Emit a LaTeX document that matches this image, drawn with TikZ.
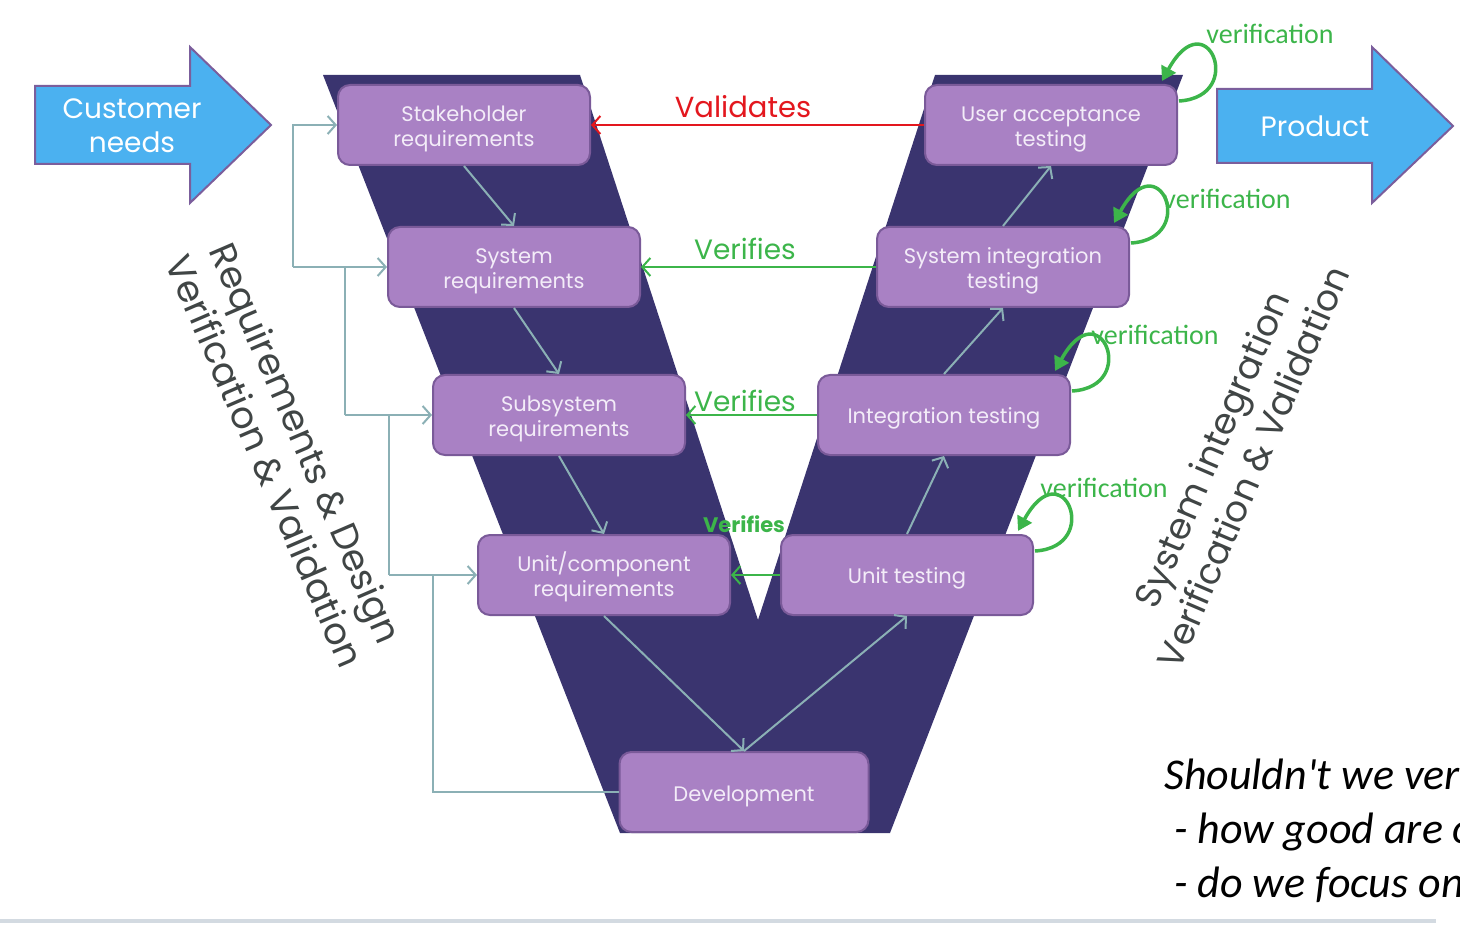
\documentclass[tikz,border=0pt]{standalone}
\usepackage{fontspec}
\setmainfont{Poppins}
\newfontfamily\calfont{Carlito}
\usetikzlibrary{arrows.meta,calc}
\definecolor{vnavy}{HTML}{3A346F}
\definecolor{boxfill}{HTML}{A981C4}
\definecolor{boxline}{HTML}{7A5A99}
\definecolor{boxtext}{HTML}{F3ECF8}
\definecolor{flowc}{HTML}{8BB0B5}
\definecolor{vgreen}{HTML}{3CB54A}
\definecolor{vred}{HTML}{E3171E}
\definecolor{arrblue}{HTML}{4BB1F0}
\definecolor{arrline}{HTML}{7B5E9C}
\definecolor{sidegrey}{HTML}{404545}
\definecolor{basegrey}{HTML}{D3DAE1}
\tikzset{
  box/.style={draw=boxline, line width=2pt, fill=boxfill, rounded corners=12pt,
    minimum width=252pt, minimum height=80pt, text=boxtext, align=center, inner sep=0pt,
    font=\fontsize{21}{25}\selectfont, execute at begin node={\rule{0pt}{23.5pt}}},
  boxtwo/.style={box, execute at begin node={\rule{0pt}{48.5pt}}},
  flow/.style={draw=flowc, line width=2pt, -{Straight Barb[length=8pt,width=18pt,line width=2pt]}},
  verarrow/.style={draw=vgreen, line width=2pt, -{Straight Barb[length=8pt,width=18pt,line width=2pt]}},
  valarrow/.style={draw=vred, line width=2pt, -{Straight Barb[length=8pt,width=18pt,line width=2pt]}},
  fb/.style={draw=flowc, line width=2pt},
  fbarrow/.style={fb, -{Straight Barb[length=8pt,width=18pt,line width=2pt]}},
  selfloop/.style={draw=vgreen, line width=3.5pt, -{Triangle[length=14pt,width=16pt]}},
  looplab/.style={text=vgreen, font=\calfont\fontsize{28}{30}\selectfont, inner sep=0pt},
  verlab/.style={text=vgreen, font=\fontsize{28}{30}\selectfont, inner sep=0pt},
  bigarrow/.style={fill=arrblue, draw=arrline, line width=2pt},
  arrtext/.style={text=white, align=center, font=\fontsize{28}{34}\selectfont},
  sidetext/.style={text=sidegrey, align=center, font=\fontsize{37}{45}\selectfont},
}
\newcommand\vloop[1]{\draw[selfloop] ($(#1.north east)+(1,17)$) .. controls +(68,-4) and +(45,-82) .. ($(#1.north east)+(-16,-3)$);}
\begin{document}
\begin{tikzpicture}[x=1pt,y=-1pt]
\useasboundingbox (0,0) rectangle (1460,925);
% V shape
\fill[vnavy] (323,75) -- (580,75) -- (758,620) -- (935,75) -- (1183,75) -- (890,833) -- (620,833) -- cycle;
% big arrows
\draw[bigarrow] (35,86) -- (190,86) -- (190,47) -- (271,125) -- (190,203) -- (190,164) -- (35,164) -- cycle;
\node[arrtext] (cust) at (132,126) {Customer\\needs};
\draw[bigarrow] (1217,89) -- (1372,89) -- (1372,47) -- (1453,126) -- (1372,203) -- (1372,163) -- (1217,163) -- cycle;
\node[arrtext] (prod) at (1315,126) {Product};
% boxes
\node[boxtwo] (stk) at (464,125) {Stakeholder\\requirements};
\node[boxtwo] (sys) at (514,267) {System\\requirements};
\node[boxtwo] (sub) at (559,415) {Subsystem\\requirements};
\node[boxtwo] (uc)  at (604,575) {Unit/component\\requirements};
\node[box, minimum width=249pt] (dev) at (744,792) {Development};
\node[box] (ut)  at (907,575) {Unit testing};
\node[box] (it)  at (944,415) {Integration testing};
\node[boxtwo] (sit) at (1003,267) {System integration\\testing};
\node[boxtwo] (uat) at (1051,125) {User acceptance\\testing};
% flow arrows
\draw[flow] (stk.south) -- (sys.north);
\draw[flow] (sys.south) -- (sub.north);
\draw[flow] (sub.south) -- (uc.north);
\draw[flow] (uc.south) -- (dev.north);
\draw[flow] (dev.north) -- (ut.south);
\draw[flow] (ut.north) -- (it.south);
\draw[flow] (it.north) -- (sit.south);
\draw[flow] (sit.north) -- (uat.south);
% feedback lines
\coordinate (j1) at (433,575);
\coordinate (j2) at (389,575);
\coordinate (j3) at (345,415);
\coordinate (j4) at (293,267);
\draw[fbarrow] (dev.west) -| (j1) -- (uc.west);
\draw[fb] (j1) -- (j2);
\draw[fbarrow] (j2) |- (sub.west);
\draw[fb] (j2 |- sub.west) -- (j3);
\draw[fbarrow] (j3) |- (sys.west);
\draw[fb] (j3 |- sys.west) -- (j4);
\draw[fbarrow] (j4) |- (stk.west);
% verification / validation
\draw[valarrow] (uat.west) -- (stk.east);
\node[text=vred, font=\fontsize{29}{30}\selectfont, inner sep=0pt] (lval) at (743,107) {Validates};
\draw[verarrow] (sit.west) -- (sys.east);
\node[verlab] (lv1) at (745,249) {Verifies};
\draw[verarrow] (it.west) -- (sub.east);
\node[verlab] (lv2) at (745,401) {Verifies};
\draw[verarrow] (ut.west) -- (uc.east);
\node[text=vgreen, font=\bfseries\fontsize{21}{24}\selectfont, inner sep=0pt] (lv3) at (744,524) {Verifies};
% self loops
\vloop{uat}
\vloop{sit}
\vloop{it}
\vloop{ut}
\node[looplab] (l1) at (1270,34) {verification};
\node[looplab] (l2) at (1227,199) {verification};
\node[looplab] (l3) at (1155,335) {verification};
\node[looplab] (l4) at (1104,488) {verification};
% side texts
\node[sidetext, rotate=-66.7] (left) at (286,452) {Requirements \& Design\\Verification \& Validation};
\node[sidetext, rotate=66.8, font=\fontsize{36}{45}\selectfont] (right) at (1232,458) {System integration\\Verification \& Validation};
% bottom right text
\node[anchor=north west, align=left, inner sep=0pt, font=\calfont\itshape\fontsize{44}{54}\selectfont] (q) at (1164,759) {Shouldn't we ver\\\hspace*{10pt}- how good are o\\\hspace*{10pt}- do we focus on};
\draw[basegrey, line width=4pt] (0,921) -- (1436,921);
\end{tikzpicture}
\end{document}
